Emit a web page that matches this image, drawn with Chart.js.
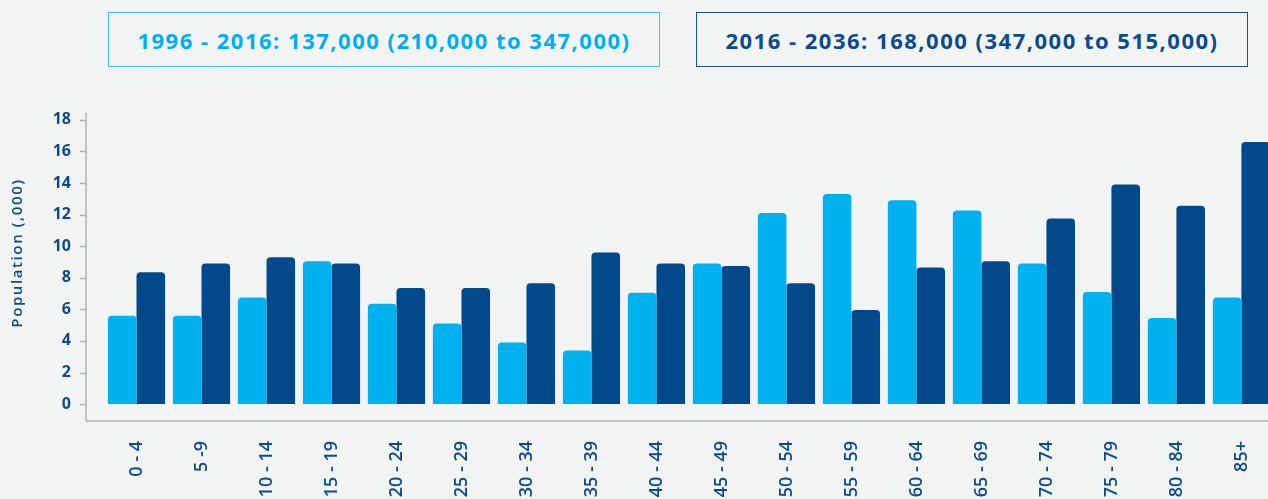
<!DOCTYPE html>
<html>
<head>
<meta charset="utf-8">
<script src="https://cdn.jsdelivr.net/npm/chart.js@4.4.0/dist/chart.umd.min.js"></script>
<style>
html, body { margin: 0; padding: 0; background: #f2f4f3; overflow: hidden; width: 1268px; height: 499px; }
.box { position: absolute; top: 12px; height: 55px; width: 552px; box-sizing: border-box; display: flex; align-items: center; justify-content: center; font-family: 'Open Sans', sans-serif; font-weight: 700; font-size: 22px; letter-spacing: 1.5px; }
#boxA { left: 108px; border: 1.5px solid #45bdf0; color: #00aeef; }
#boxB { left: 696px; border: 1.5px solid #1d528f; color: #0b4a8b; }
#wrap { position: absolute; left: 0; top: 0; width: 1283px; height: 580px; }
</style>
</head>
<body>
<div class="box" id="boxA"></div>
<div class="box" id="boxB"></div>
<div id="wrap"><canvas id="myChart" width="1283" height="580"></canvas></div>
<script>
// age bands along the bottom
var ageGroups = ['0 - 4', '5 -9', '10 - 14', '15 - 19', '20 - 24', '25 - 29', '30 - 34', '35 - 39', '40 - 44',
    '45 - 49', '50 - 54', '55 - 59', '60 - 64', '65 - 69', '70 - 74', '75 - 79', '80 - 84', '85+'];

// population growth, thousands
var growth1996 = [5.6, 5.6, 6.75, 9.05, 6.35, 5.1, 3.9, 3.4, 7.05, 8.9, 12.1, 13.3, 12.9, 12.25, 8.9, 7.1, 5.45, 6.75];
var growth2016 = [8.35, 8.9, 9.3, 8.9, 7.35, 7.35, 7.65, 9.6, 8.9, 8.75, 7.65, 5.95, 8.65, 9.05, 11.75, 13.9, 12.55, 16.6];

var seriesLabels = ['1996 - 2016: 137,000 (210,000 to 347,000)', '2016 - 2036: 168,000 (347,000 to 515,000)'];
var yTicks = [0, 2, 4, 6, 8, 10, 12, 14, 16, 18];
var yTitle = 'Population (,000)';

document.getElementById('boxA').textContent = seriesLabels[0];
document.getElementById('boxB').textContent = seriesLabels[1];

var lightBlue = '#00b1ef';
var darkBlue = '#02498c';
var textBlue = '#0b4a8b';
var lineGrey = '#b3b3b3';

// axis lines sit a bit left of the plot, like the original
var axisLines = {
    id: 'axisLines',
    afterDraw: function (chart) {
        var ctx = chart.ctx;
        var area = chart.chartArea;
        var y = chart.scales.y;
        var ax = area.left - 18;
        ctx.save();
        ctx.strokeStyle = lineGrey;
        ctx.lineWidth = 1.5;
        ctx.beginPath();
        ctx.moveTo(ax, area.top);
        ctx.lineTo(ax, area.bottom);
        ctx.moveTo(ax, area.bottom);
        ctx.lineTo(area.right, area.bottom);
        yTicks.forEach(function (v) {
            var py = Math.round(y.getPixelForValue(v)) + 0.5;
            ctx.moveTo(ax - 6, py);
            ctx.lineTo(ax, py);
        });
        ctx.stroke();

        ctx.translate(18, 253);
        ctx.rotate(-Math.PI / 2);
        ctx.fillStyle = textBlue;
        ctx.font = '600 15px "Open Sans"';
        ctx.letterSpacing = '1.6px';
        ctx.textAlign = 'center';
        ctx.textBaseline = 'middle';
        ctx.fillText(yTitle, 0, 0);
        ctx.restore();
    }
};

const data = {
    labels: ageGroups,
    datasets: [{
        label: seriesLabels[0],
        data: growth1996,
        backgroundColor: lightBlue,
        borderRadius: 4,
        categoryPercentage: 0.88,
        barPercentage: 1.0
    }, {
        label: seriesLabels[1],
        data: growth2016,
        backgroundColor: darkBlue,
        borderRadius: 4,
        categoryPercentage: 0.88,
        barPercentage: 1.0
    }]
};

const config = {
    type: 'bar',
    data: data,
    options: {
        responsive: false,
        animation: false,
        devicePixelRatio: 1,
        layout: { padding: { top: 113, left: 0, right: 0, bottom: 0 } },
        plugins: {
            legend: { display: false },
            tooltip: { enabled: false }
        },
        scales: {
            x: {
                grid: { display: false, drawTicks: false },
                border: { display: false },
                ticks: {
                    color: textBlue,
                    font: { family: 'Open Sans', weight: '600', size: 18 },
                    minRotation: 90,
                    maxRotation: 90,
                    padding: 20,
                    autoSkip: false
                },
                afterFit: function (scale) { scale.height = 159; }
            },
            y: {
                min: -1.07,
                max: 18.43,
                grid: { display: false, drawTicks: false },
                border: { display: false },
                ticks: {
                    color: textBlue,
                    font: { family: 'Open Sans', weight: '700', size: 16 },
                    padding: 33
                },
                afterBuildTicks: function (scale) {
                    scale.ticks = yTicks.map(function (v) { return { value: v }; });
                },
                afterFit: function (scale) { scale.width = 104; }
            }
        }
    },
    plugins: [axisLines]
};

let c = document.getElementById('myChart').getContext('2d');
var curchart = new Chart(c, config);
</script>
</body>
</html>
